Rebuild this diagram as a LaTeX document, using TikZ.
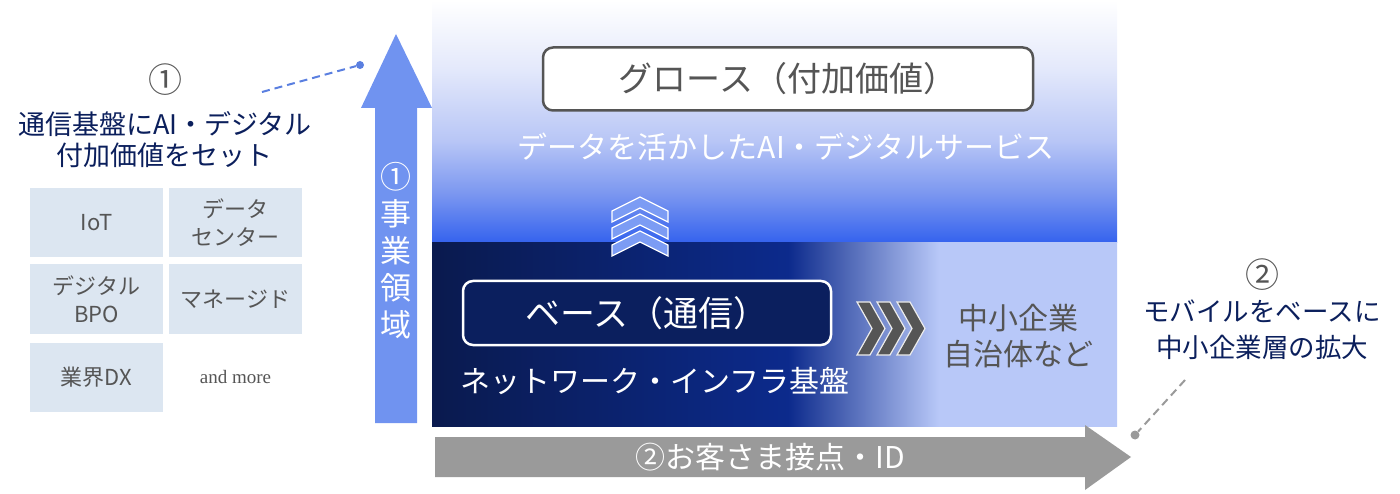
\documentclass[tikz,border=0pt]{standalone}
\usepackage{fontspec}
\setmainfont{Noto Sans CJK JP}
\newfontfamily\latinserif{Liberation Serif}

\definecolor{navytext}{HTML}{0B1F5C}
\definecolor{txtgray}{HTML}{555555}
\definecolor{cellblue}{HTML}{DCE6F1}
\definecolor{arrowblue}{HTML}{7093F0}
\definecolor{arrowgray}{HTML}{9A9A9A}
\definecolor{topblue}{HTML}{3462EE}
\definecolor{midblue}{HTML}{7A96F0}
\definecolor{paleblue}{HTML}{B8C6F6}
\definecolor{faintblue}{HTML}{E4E9FB}
\definecolor{deepnavy}{HTML}{0A1A4E}
\definecolor{basenavy}{HTML}{0C2A8C}
\definecolor{lightblue}{HTML}{B8C8F8}
\definecolor{boxnavy}{HTML}{0B1F5E}
\definecolor{chevblue}{HTML}{7C9CF4}
\definecolor{dashblue}{HTML}{5A7FE0}

% グラデーション
\pgfdeclareverticalshading{growthfade}{100bp}{color(0bp)=(topblue); color(25bp)=(topblue); color(35bp)=(midblue); color(46bp)=(paleblue); color(61bp)=(faintblue); color(75bp)=(white); color(100bp)=(white)}
\pgfdeclarehorizontalshading{basefade}{100bp}{color(0bp)=(deepnavy); color(25bp)=(deepnavy); color(51bp)=(basenavy); color(62bp)=(lightblue); color(100bp)=(lightblue)}

\tikzset{
  cell/.style={fill=cellblue, minimum width=133, minimum height=69, inner sep=0, text=txtgray, align=center, font=\fontsize{22}{28}\selectfont},
  upchev/.style={fill=chevblue, draw=white, line width=1.2, line join=miter},
  rightchev/.style={fill=txtgray, draw=white!85!gray, line width=1.2, line join=miter},
  dot/.style={circle, inner sep=0, minimum size=#1},
}

\begin{document}
\begin{tikzpicture}[x=1pt, y=-1pt]
\useasboundingbox (0,0) rectangle (1400,494);
% パネル
\shade[shading=growthfade] (432,0) rectangle (1117,243);
\shade[shading=basefade] (432,243) rectangle (1117,426);
% 事業領域の矢印
\fill[arrowblue] (375,423) -- (375,108) -- (361,108) -- (396,34) -- (432,108) -- (417,108) -- (417,423) -- cycle;
\node[text=white, align=center, font=\fontsize{31}{37}\selectfont] (area) at (396,251) {①\\事\\業\\領\\域};
% お客さま接点の矢印
\fill[arrowgray] (435,437) -- (1085,437) -- (1085,425) -- (1131,457) -- (1085,490) -- (1085,477) -- (435,477) -- cycle;
\node[text=white, font=\fontsize{30}{36}\selectfont] (contact) at (770,457) {②お客さま接点・ID};
% グロース
\node[draw=txtgray, line width=2.5, fill=white, rounded corners=10, minimum width=490, minimum height=63, text=txtgray, font=\fontsize{34}{40}\selectfont] (growth) at (788,79) {グロース（付加価値）};
\node[text=white, font=\fontsize{30}{36}\selectfont] (service) at (786,147) {データを活かしたAI・デジタルサービス};
\foreach \y in {197,214,231}
  \draw[upchev] (640,\y) -- ++(28,14) -- ++(0,11) -- ++(-28,-14) -- ++(-28,14) -- ++(0,-11) -- cycle;
% ベース
\node[draw=white, line width=2.5, fill=boxnavy, rounded corners=10, minimum width=368, minimum height=64, text=white, font=\fontsize{35}{40}\selectfont] (base) at (647,313) {ベース（通信）};
\node[text=white, font=\fontsize{30}{36}\selectfont] (infra) at (655,381) {ネットワーク・インフラ基盤};
\foreach \x in {857,877,897}
  \draw[rightchev] (\x,302) -- ++(13,0) -- ++(15,26.5) -- ++(-15,26.5) -- ++(-13,0) -- ++(15,-26.5) -- cycle;
\node[text=txtgray, align=center, font=\fontsize{30}{36}\selectfont] (target) at (1018,336) {中小企業\\自治体など};
% 左の説明
\node[text=txtgray, font=\fontsize{34}{38}\selectfont] (num1) at (165,80) {①};
\node[text=navytext, align=center, font=\fontsize{27}{31}\selectfont] (note1) at (165,140) {通信基盤にAI・デジタル\\付加価値をセット};
\coordinate (tail1) at (262,92);
\node[dot=8, fill=dashblue] (head1) at (360,65) {};
\draw[dashblue, line width=2, dash pattern=on 8pt off 5pt] (tail1) -- (head1);
\node[cell] (iot) at (96.5,222.5) {IoT};
\node[cell] (dc) at (235.5,222.5) {データ\\センター};
\node[cell] (bpo) at (96.5,299) {デジタル\\BPO};
\node[cell] (managed) at (235.5,299) {マネージド};
\node[cell] (dx) at (96.5,377.5) {業界DX};
\node[text=txtgray, font=\latinserif\fontsize{19}{23}\selectfont] (more) at (235.5,377.5) {and more};
% 右の説明
\node[text=txtgray, font=\fontsize{34}{38}\selectfont] (num2) at (1262,275) {②};
\node[text=navytext, align=center, font=\fontsize{26.5}{36}\selectfont] (note2) at (1262,330) {モバイルをベースに\\中小企業層の拡大};
\coordinate (tail2) at (1185,380);
\node[dot=9, fill=arrowgray] (head2) at (1135,435) {};
\draw[arrowgray, line width=2, dash pattern=on 8pt off 5pt] (tail2) -- (head2);
\end{tikzpicture}
\end{document}
